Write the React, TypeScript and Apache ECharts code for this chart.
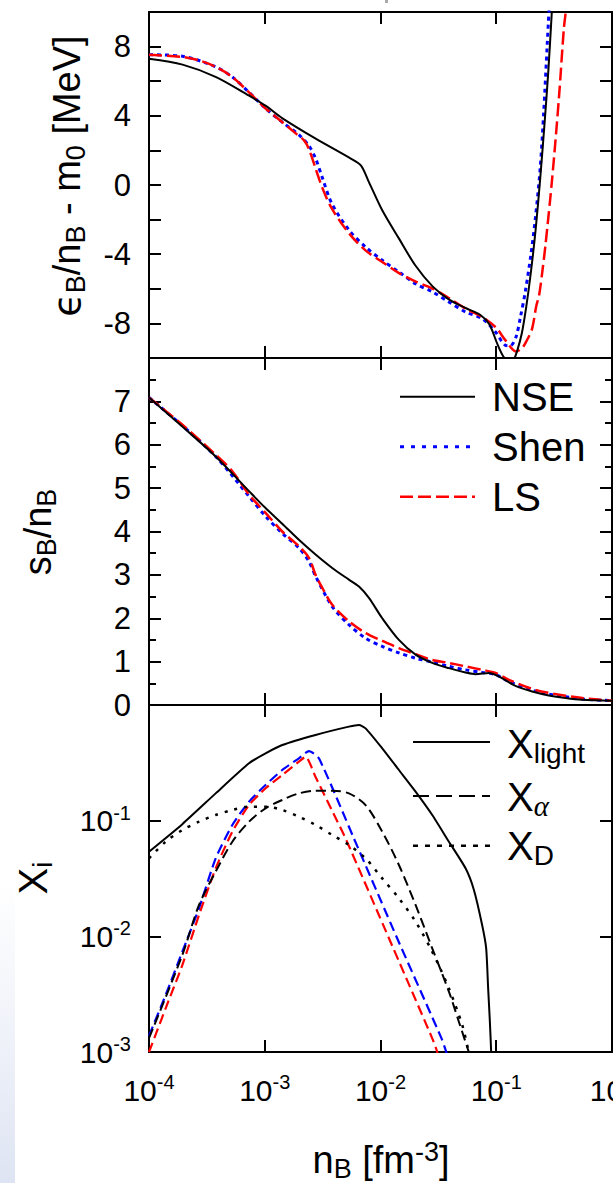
import React, { useEffect, useRef } from "react";
import * as echarts from "echarts";

const FONT = '"Liberation Sans", Arial, Helvetica, sans-serif';
const SERIF = '"Liberation Serif", "DejaVu Serif", serif';

// ---------- top panel: eps_B/n_B - m0 [MeV] vs log10(nB) ----------
const topNseLogN = [-4, -3.71, -3.42, -3.14, -2.99, -2.85, -2.56, -2.27, -2.17, -2.1, -1.985, -1.84, -1.7, -1.55, -1.41, -1.265, -1.14, -1.06, -0.99, -0.94, -0.89, -0.85, -0.82, -0.78, -0.74, -0.7, -0.66, -0.62, -0.58, -0.55, -0.52, -0.5];
const topNseE = [7.3, 6.96, 6.24, 5.18, 4.57, 3.87, 2.68, 1.58, 1.14, 0.17, -1.46, -3.1, -4.64, -5.86, -6.61, -7.11, -7.5, -8.05, -9.2, -9.9, -10.25, -10.1, -9.6, -8.6, -7.0, -5.0, -2.6, 0.4, 3.8, 6.6, 10, 12.5];

const topShenLogN = [-4, -3.71, -3.42, -3.28, -3.14, -2.99, -2.85, -2.7, -2.62, -2.56, -2.5, -2.42, -2.27, -2.13, -1.985, -1.84, -1.7, -1.55, -1.41, -1.265, -1.12, -1.006, -0.92, -0.88, -0.83, -0.79, -0.75, -0.7, -0.66, -0.62, -0.59, -0.56, -0.545, -0.53];
const topShenE = [7.53, 7.44, 6.82, 6.24, 5.38, 4.41, 3.64, 2.87, 2.29, 1.52, 0.37, -1.08, -2.62, -3.58, -4.35, -5.03, -5.7, -6.18, -6.76, -7.34, -7.73, -8.5, -9.27, -9.3, -8.8, -7.6, -6.2, -4.0, -1.8, 1.0, 4.2, 8.07, 10, 12];

const topLsLogN = [-4, -3.71, -3.57, -3.42, -3.28, -3.14, -2.99, -2.85, -2.73, -2.66, -2.62, -2.56, -2.5, -2.42, -2.27, -2.13, -1.985, -1.84, -1.7, -1.55, -1.41, -1.265, -1.12, -1.006, -0.92, -0.83, -0.78, -0.74, -0.69, -0.655, -0.63, -0.6, -0.575, -0.517, -0.459, -0.416, -0.4, -0.39];
const topLsE = [7.53, 7.4, 7.21, 6.82, 6.24, 5.38, 4.41, 3.64, 2.97, 2.58, 2.1, 0.94, -0.21, -1.37, -2.81, -3.78, -4.45, -5.09, -5.57, -5.99, -6.53, -7.15, -7.63, -8.21, -8.98, -9.62, -9.45, -9.04, -8.3, -7.02, -6.38, -4.9, -3.49, 0.37, 4.99, 9.04, 10, 11];

// ---------- middle panel: s_B/n_B ----------
const midNseLogN = [-4, -3.712, -3.424, -3.136, -2.993, -2.849, -2.705, -2.561, -2.417, -2.273, -2.186, -2.1, -1.985, -1.841, -1.697, -1.553, -1.409, -1.265, -1.179, -1.064, -0.978, -0.834, -0.69, -0.546, -0.402, -0.258, 0];
const midNseS = [7.09, 6.42, 5.73, 4.93, 4.54, 4.18, 3.81, 3.47, 3.16, 2.89, 2.73, 2.47, 2.0, 1.5, 1.16, 0.97, 0.85, 0.75, 0.71, 0.74, 0.66, 0.44, 0.31, 0.22, 0.16, 0.12, 0.1];

const midShenLogN = [-4, -3.712, -3.424, -3.136, -2.993, -2.849, -2.705, -2.618, -2.561, -2.417, -2.273, -2.129, -1.985, -1.841, -1.697, -1.553, -1.409, -1.265, -1.122, -1.006, -0.891, -0.69, -0.546, -0.258, 0];
const midShenS = [7.09, 6.44, 5.73, 4.81, 4.35, 3.96, 3.62, 3.31, 2.97, 2.27, 1.85, 1.54, 1.35, 1.2, 1.08, 0.99, 0.89, 0.81, 0.75, 0.7, 0.54, 0.34, 0.25, 0.14, 0.1];

const midLsLogN = [-4, -3.712, -3.424, -3.28, -3.136, -2.993, -2.849, -2.705, -2.618, -2.561, -2.503, -2.417, -2.273, -2.129, -1.985, -1.841, -1.697, -1.553, -1.409, -1.265, -1.122, -1.006, -0.891, -0.69, -0.546, -0.258, 0];
const midLsS = [7.09, 6.46, 5.77, 5.39, 4.85, 4.43, 4.0, 3.66, 3.39, 3.0, 2.7, 2.31, 1.93, 1.66, 1.48, 1.31, 1.17, 1.04, 0.97, 0.89, 0.81, 0.74, 0.58, 0.37, 0.28, 0.16, 0.1];

// ---------- bottom panel: X_i (log10 of the mass fractions) ----------
const lightLogN = [-4, -3.712, -3.424, -3.136, -2.993, -2.849, -2.561, -2.273, -2.186, -2.129, -1.985, -1.841, -1.697, -1.553, -1.409, -1.265, -1.193, -1.122, -1.087, -1.07, -1.055, -1.044, -1.04];
const lightLogX = [-1.268, -1.03, -0.764, -0.504, -0.418, -0.346, -0.259, -0.187, -0.173, -0.202, -0.375, -0.562, -0.749, -0.951, -1.182, -1.412, -1.599, -1.902, -2.104, -2.45, -2.74, -3.0, -3.2];

const alphaNseLogN = [-4, -3.712, -3.568, -3.424, -3.28, -3.136, -2.993, -2.849, -2.705, -2.561, -2.417, -2.273, -2.129, -1.985, -1.841, -1.697, -1.553, -1.409, -1.323, -1.237, -1.22];
const alphaNseLogX = [-2.88, -2.161, -1.729, -1.441, -1.182, -1.009, -0.893, -0.821, -0.764, -0.741, -0.741, -0.764, -0.865, -1.095, -1.383, -1.729, -2.104, -2.478, -2.738, -3.0, -3.05];

const deutLogN = [-4, -3.856, -3.712, -3.568, -3.424, -3.28, -3.136, -2.993, -2.849, -2.705, -2.561, -2.417, -2.273, -2.129, -1.985, -1.841, -1.697, -1.553, -1.409, -1.294, -1.237, -1.22];
const deutLogX = [-1.326, -1.182, -1.081, -1.009, -0.951, -0.908, -0.879, -0.879, -0.908, -0.965, -1.037, -1.124, -1.21, -1.326, -1.499, -1.671, -1.873, -2.133, -2.45, -2.767, -3.0, -3.05];

const alphaShenLogN = [-4, -3.856, -3.712, -3.568, -3.424, -3.28, -3.136, -2.993, -2.849, -2.705, -2.618, -2.532, -2.23, -1.856, -1.473, -1.432, -1.42];
const alphaShenLogX = [-2.86, -2.507, -2.133, -1.758, -1.326, -1.037, -0.836, -0.692, -0.562, -0.461, -0.398, -0.461, -1.153, -2.017, -2.882, -3.0, -3.05];

const alphaLsLogN = [-4, -3.856, -3.712, -3.568, -3.424, -3.28, -3.136, -2.993, -2.849, -2.705, -2.647, -2.561, -2.417, -2.302, -1.927, -1.553, -1.51, -1.5];
const alphaLsLogX = [-3.0, -2.622, -2.248, -1.816, -1.412, -1.095, -0.865, -0.72, -0.605, -0.49, -0.447, -0.622, -0.916, -1.153, -2.017, -2.882, -3.0, -3.05];

const xTickExps = [-4, -3, -2, -1, 0];

const lin = (lx: number[], ys: number[]) => lx.map((e, i) => [Math.pow(10, e), ys[i]]);
const lg = (lx: number[], ly: number[]) => lx.map((e, i) => [Math.pow(10, e), Math.pow(10, ly[i])]);

const AX = "#000";

function xAxis(gridIndex: number, position: string, showLabel: boolean) {
  return {
    type: "log",
    logBase: 10,
    min: 1e-4,
    max: 1,
    splitNumber: 4,
    gridIndex,
    position,
    axisLine: { show: true, onZero: false, lineStyle: { color: AX, width: 2 } },
    axisTick: { show: true, inside: true, length: 12, lineStyle: { color: AX, width: 2 } },
    minorTick: { show: false },
    splitLine: { show: false },
    axisLabel: showLabel
      ? {
          show: true,
          margin: 20,
          hideOverlap: false,
          formatter: (v: number) => {
            const e = Math.round(Math.log10(v));
            return xTickExps.includes(e) ? `{b|10}{s|${e}}` : "";
          },
          rich: {
            b: { fontSize: 30, fontFamily: FONT, color: "#000", lineHeight: 36 },
            s: { fontSize: 20, fontFamily: FONT, color: "#000", lineHeight: 20, verticalAlign: "top" },
          },
        }
      : { show: false },
  };
}

export default function App() {
  const ref = useRef<HTMLDivElement>(null);
  useEffect(() => {
    document.body.style.margin = "0";
    const chart = echarts.init(ref.current!, null, { renderer: "svg" });

    const tickStyle = { color: AX, width: 2 };
    const yLeftTop = {
      type: "value", gridIndex: 0, position: "left", min: -10, max: 10, interval: 2,
      axisLine: { show: true, lineStyle: { color: AX, width: 2 } },
      axisTick: { show: true, inside: true, length: 12, lineStyle: tickStyle },
      splitLine: { show: false },
      axisLabel: {
        margin: 18, fontSize: 31, fontFamily: FONT, color: "#000",
        formatter: (v: number) => (v % 4 === 0 && Math.abs(v) < 10 ? String(v) : ""),
      },
    };
    const yRightTop = { ...yLeftTop, position: "right", axisLabel: { show: false } };

    const yLeftMid = {
      type: "value", gridIndex: 1, position: "left", min: 0, max: 8, interval: 1,
      axisLine: { show: true, lineStyle: { color: AX, width: 2 } },
      axisTick: { show: true, inside: true, length: 12, lineStyle: tickStyle },
      minorTick: { show: true, splitNumber: 2, length: 7, lineStyle: tickStyle },
      splitLine: { show: false },
      minorSplitLine: { show: false },
      axisLabel: {
        margin: 18, fontSize: 31, fontFamily: FONT, color: "#000",
        formatter: (v: number) => (v < 8 ? String(v) : ""),
      },
    };
    const yRightMid = { ...yLeftMid, position: "right", axisLabel: { show: false } };

    const yLeftBot = {
      type: "log", logBase: 10, gridIndex: 2, position: "left", min: 1e-3, max: 1, splitNumber: 3,
      axisLine: { show: true, lineStyle: { color: AX, width: 2 } },
      axisTick: { show: true, inside: true, length: 12, lineStyle: tickStyle },
      minorTick: { show: false },
      splitLine: { show: false },
      axisLabel: {
        margin: 18,
        formatter: (v: number) => {
          const e = Math.round(Math.log10(v));
          return e < 0 ? `{b|10}{s|${e}}` : "";
        },
        rich: {
          b: { fontSize: 30, fontFamily: FONT, color: "#000", lineHeight: 36 },
          s: { fontSize: 20, fontFamily: FONT, color: "#000", lineHeight: 20, verticalAlign: "top" },
        },
      },
    };
    const yRightBot = { ...yLeftBot, position: "right", axisLabel: { show: false } };

    const mk = (xi: number, yi: number, data: number[][], color: string, width: number, type: any, smooth: number | boolean, z: number) => ({
      type: "line", xAxisIndex: xi, yAxisIndex: yi, data, symbol: "none", showSymbol: false,
      smooth, clip: true, silent: true, z,
      lineStyle: { color, width, type, cap: "butt", join: "round" },
    });

    const titleRich = (size: number) => ({
      n: { fontSize: size, fontFamily: FONT, color: "#000", lineHeight: size + 6 },
      e: { fontSize: size, fontFamily: '"DejaVu Sans", ' + FONT, color: "#000", lineHeight: size + 6 },
      sub: { fontSize: Math.round(size * 0.7), fontFamily: FONT, color: "#000", lineHeight: Math.round(size * 0.5), verticalAlign: "bottom" },
      sup: { fontSize: Math.round(size * 0.7), fontFamily: FONT, color: "#000", lineHeight: Math.round(size * 0.5), verticalAlign: "top" },
      ga: { fontSize: Math.round(size * 0.72), fontFamily: SERIF, fontStyle: "italic", color: "#000", lineHeight: Math.round(size * 0.5), verticalAlign: "bottom" },
    });

    const legLine = (x1: number, x2: number, y: number, color: string, dash: any, width: number) => ({
      type: "line", shape: { x1, y1: y, x2, y2: y }, silent: true, z: 100,
      style: { stroke: color, lineWidth: width, lineDash: dash, lineCap: "butt" },
    });
    const legText = (x: number, y: number, text: string) => ({
      type: "text", x, y, silent: true, z: 100,
      style: { text, rich: titleRich(40), fill: "#000", align: "left", verticalAlign: "middle", font: `40px ${FONT}` },
    });

    const gridBase = { left: 149, width: 463, containLabel: false, outerBoundsMode: "none" };

    const option = {
      animation: false,
      backgroundColor: "#fff",
      grid: [
        { ...gridBase, top: 12, height: 346 },
        { ...gridBase, top: 358, height: 347 },
        { ...gridBase, top: 705, height: 347 },
      ],
      xAxis: [
        xAxis(0, "bottom", false), xAxis(0, "top", false),
        xAxis(1, "bottom", false), xAxis(1, "top", false),
        xAxis(2, "bottom", true), xAxis(2, "top", false),
      ],
      yAxis: [yLeftTop, yRightTop, yLeftMid, yRightMid, yLeftBot, yRightBot],
      series: [
        mk(0, 0, lin(topShenLogN, topShenE), "#0000ff", 3, [4, 4], 0.3, 2),
        mk(0, 0, lin(topLsLogN, topLsE), "#ff0000", 2.5, [13, 5], 0.3, 3),
        mk(0, 0, lin(topNseLogN, topNseE), "#000", 2, "solid", 0.3, 4),

        mk(2, 2, lin(midShenLogN, midShenS), "#0000ff", 3, [4, 4], 0.3, 2),
        mk(2, 2, lin(midLsLogN, midLsS), "#ff0000", 2.5, [13, 5], 0.3, 3),
        mk(2, 2, lin(midNseLogN, midNseS), "#000", 2, "solid", 0.3, 4),

        mk(4, 4, lg(alphaShenLogN, alphaShenLogX), "#0000ff", 2.2, [10, 5], 0.2, 2),
        mk(4, 4, lg(alphaLsLogN, alphaLsLogX), "#ff0000", 2.2, [10, 5], 0.2, 3),
        mk(4, 4, lg(deutLogN, deutLogX), "#000", 2.5, [3, 7], 0.3, 4),
        mk(4, 4, lg(alphaNseLogN, alphaNseLogX), "#000", 2, [10, 5], 0.3, 4),
        mk(4, 4, lg(lightLogN, lightLogX), "#000", 2, "solid", 0.2, 5),
      ],
      graphic: [
        {
          type: "rect", silent: true, z: -10,
          shape: { x: 0, y: 880, width: 15, height: 303 },
          style: {
            fill: new echarts.graphic.LinearGradient(0, 0, 0, 1, [
              { offset: 0, color: "rgba(226,231,244,0)" },
              { offset: 1, color: "rgba(222,228,243,1)" },
            ]),
          },
        },
        { type: "rect", silent: true, shape: { x: 385, y: 0, width: 3, height: 3 }, style: { fill: "#aaa" } },
        // y-axis titles
        {
          type: "text", x: 67, y: 176, rotation: Math.PI / 2, silent: true,
          style: {
            text: "{e|ϵ}{sub|B}{n|/n}{sub|B}{n| - m}{sub|0}{n| [MeV]}",
            rich: titleRich(38), align: "center", verticalAlign: "middle", font: `38px ${FONT}`,
          },
        },
        {
          type: "text", x: 38, y: 532, rotation: Math.PI / 2, silent: true,
          style: {
            text: "{n|s}{sub|B}{n|/n}{sub|B}",
            rich: titleRich(38), align: "center", verticalAlign: "middle", font: `38px ${FONT}`,
          },
        },
        {
          type: "text", x: 33, y: 878, rotation: Math.PI / 2, silent: true,
          style: {
            text: "{n|X}{sub|i}",
            rich: titleRich(40), align: "center", verticalAlign: "middle", font: `40px ${FONT}`,
          },
        },
        // x-axis title
        {
          type: "text", x: 381, y: 1160, silent: true,
          style: {
            text: "{n|n}{sub|B}{n| [fm}{sup|-3}{n|]}",
            rich: titleRich(38), align: "center", verticalAlign: "middle", font: `38px ${FONT}`,
          },
        },
        // middle legend
        legLine(400, 475, 396.7, "#000", null, 2),
        legLine(400, 475, 446.7, "#0000ff", [4, 7], 3),
        legLine(400, 475, 496.7, "#ff0000", [13, 5], 2.5),
        legText(492, 396.7, "{n|NSE}"),
        legText(492, 446.7, "{n|Shen}"),
        legText(492, 496.7, "{n|LS}"),
        // bottom legend
        legLine(413, 490, 742, "#000", null, 2),
        legLine(413, 490, 796, "#000", [16, 7], 2),
        legLine(413, 490, 845.7, "#000", [5, 7], 2.5),
        legText(507, 744, "{n|X}{sub|light}"),
        legText(507, 797, "{n|X}{ga|α}"),
        legText(507, 846, "{n|X}{sub|D}"),
      ],
    };

    chart.setOption(option as any);
    return () => chart.dispose();
  }, []);

  return <div ref={ref} style={{ position: "absolute", left: 0, top: 0, width: 613, height: 1183, background: "#fff" }} />;
}
